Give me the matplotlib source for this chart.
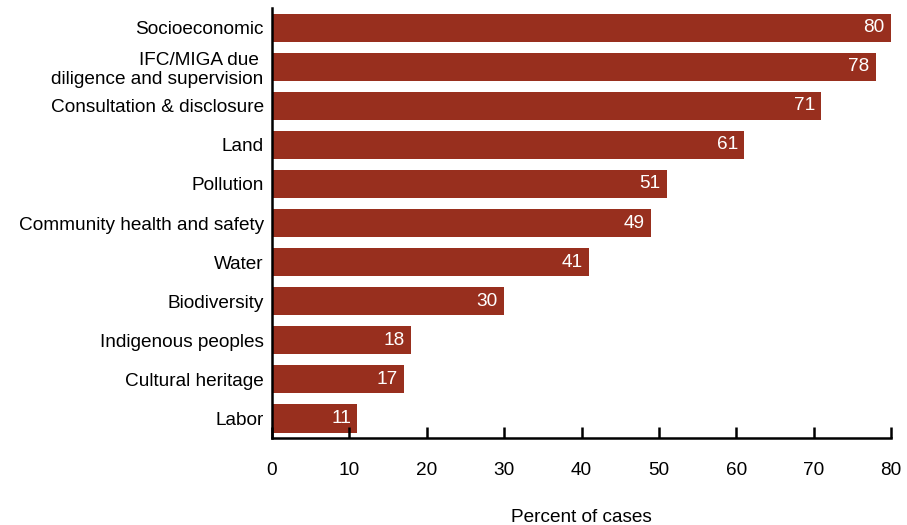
import matplotlib
matplotlib.use("Agg")
import matplotlib.pyplot as plt

categories = ["Socioeconomic", "IFC/MIGA due \ndiligence and supervision",
              "Consultation & disclosure", "Land", "Pollution",
              "Community health and safety", "Water", "Biodiversity",
              "Indigenous peoples", "Cultural heritage", "Labor"]
values = [80, 78, 71, 61, 51, 49, 41, 30, 18, 17, 11]
xticks = [0, 10, 20, 30, 40, 50, 60, 70, 80]

bar_color = "#982f1e"

plt.rcParams['font.family'] = ['Liberation Sans', 'DejaVu Sans']

fig = plt.figure(figsize=(9.07, 5.25), dpi=100)
ax = fig.add_axes([0.2999, 0.1657, 0.6825, 0.819])

pos = list(range(len(categories)))
ax.barh(pos, values, height=0.72, color=bar_color)
for p, v in zip(pos, values):
    ax.text(v - 0.8, p, str(v), color="white", ha="right", va="center", fontsize=13.7)

ax.set_ylim(len(categories) - 0.5, -0.5)
ax.set_xlim(0, 80)
ax.set_yticks(pos)
ax.set_yticklabels(categories, fontsize=13.7, linespacing=1.2)
ax.tick_params(axis="y", length=0, pad=6)
ax.set_xticks(xticks)
ax.tick_params(axis="x", direction="in", length=8, width=1.8, labelsize=13.7, pad=17)
ax.set_xlabel("Percent of cases", fontsize=13.7, labelpad=22)

for s in ["top", "right"]:
    ax.spines[s].set_visible(False)
ax.spines["left"].set_linewidth(1.8)
ax.spines["bottom"].set_linewidth(1.8)

fig.savefig("out.png", dpi=100)
